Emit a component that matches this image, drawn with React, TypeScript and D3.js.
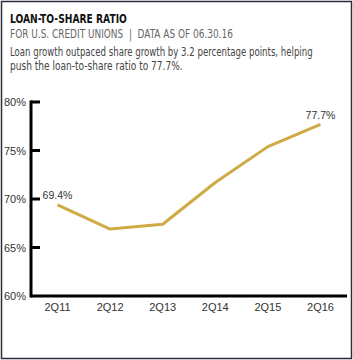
import React, { useEffect, useRef } from "react";
import * as d3 from "d3";

const quarters = ["2Q11", "2Q12", "2Q13", "2Q14", "2Q15", "2Q16"];
const ratios = [69.4, 66.9, 67.4, 71.7, 75.4, 77.7];
const yTicks = [60, 65, 70, 75, 80];
const labelled = [0, 5];

const title = "LOAN-TO-SHARE RATIO";
const subtitle = "FOR U.S. CREDIT UNIONS  |  DATA AS OF 06.30.16";
const blurb = [
  "Loan growth outpaced share growth by 3.2 percentage points, helping",
  "push the loan-to-share ratio to 77.7%.",
];

const W = 353;
const H = 360;
const narrow = "'DejaVu Sans Condensed', 'Liberation Sans', sans-serif";
const sans = "'Liberation Sans', Arial, sans-serif";

// squeeze a header line horizontally so it spans the width seen in the picture
const fitText = (sel: any, x: number, y: number, width: number) => {
  const node = sel.node() as SVGTextElement;
  const w = node.getComputedTextLength() || width;
  sel.attr("transform", `translate(${x},${y}) scale(${width / w},1)`);
};

export default function App() {
  const ref = useRef<SVGSVGElement>(null);

  useEffect(() => {
    const svg = d3.select(ref.current);
    svg.selectAll("*").remove();

    svg.append("rect")
      .attr("x", 1.5).attr("y", 1.5)
      .attr("width", W - 3).attr("height", H - 3)
      .attr("fill", "#fff").attr("stroke", "#2c2c3c").attr("stroke-width", 1.5);

    // header
    const t = svg.append("text").text(title)
      .attr("font-family", narrow).attr("font-weight", "bold").attr("font-size", 13)
      .attr("fill", "#111");
    fitText(t, 10, 23, 117);
    const s = svg.append("text").text(subtitle)
      .attr("font-family", narrow).attr("font-size", 12)
      .attr("fill", "#666")
      .attr("xml:space", "preserve");
    fitText(s, 10, 38, 223);
    const widths = [303, 173];
    blurb.forEach((line, i) => {
      const b = svg.append("text").text(line)
        .attr("font-family", narrow).attr("font-size", 12.5)
        .attr("fill", "#444");
      fitText(b, 10, 56 + i * 14, widths[i]);
    });

    const x = d3.scalePoint<string>().domain(quarters).range([57.5, 320.5]);
    const y = d3.scaleLinear().domain([60, 80]).range([296, 102]);

    const g = svg.append("g");

    // y axis
    const yAxis = g.append("g").attr("transform", "translate(31,0)")
      .call(d3.axisLeft(y).tickValues(yTicks).tickSize(0).tickPadding(5)
        .tickFormat(d => `${d}%`));
    yAxis.select(".domain").remove();
    yAxis.selectAll("text")
      .attr("font-family", sans).attr("font-size", 11).attr("fill", "#333");

    g.selectAll(".ytick").data(yTicks.filter(t => t !== 60)).join("line")
      .attr("x1", 31).attr("x2", 40)
      .attr("y1", d => y(d)).attr("y2", d => y(d))
      .attr("stroke", "#000").attr("stroke-width", 3);

    g.append("line")
      .attr("x1", 31).attr("x2", 31).attr("y1", y(80) - 1.5).attr("y2", y(60) + 1.5)
      .attr("stroke", "#000").attr("stroke-width", 3);
    g.append("line")
      .attr("x1", 31).attr("x2", 347).attr("y1", y(60)).attr("y2", y(60))
      .attr("stroke", "#000").attr("stroke-width", 3);

    // x labels
    g.selectAll(".xl").data(quarters).join("text")
      .attr("x", d => x(d)!).attr("y", 311)
      .attr("text-anchor", "middle")
      .attr("font-family", sans).attr("font-size", 11).attr("fill", "#333")
      .text(d => d);

    const line = d3.line<number>()
      .x((_, i) => x(quarters[i])!)
      .y(d => y(d));
    g.append("path").datum(ratios)
      .attr("fill", "none")
      .attr("stroke", "#cfab45").attr("stroke-width", 3)
      .attr("stroke-linejoin", "round")
      .attr("d", line);

    g.selectAll(".dl").data(labelled).join("text")
      .attr("x", i => x(quarters[i])!).attr("y", i => y(ratios[i]) - 5.5)
      .attr("text-anchor", "middle")
      .attr("font-family", sans).attr("font-size", 10.5).attr("fill", "#333")
      .text(i => `${ratios[i]}%`);
  }, []);

  return (
    <svg ref={ref} width={W} height={H}
      style={{ position: "absolute", left: 0, top: 0 }} />
  );
}
